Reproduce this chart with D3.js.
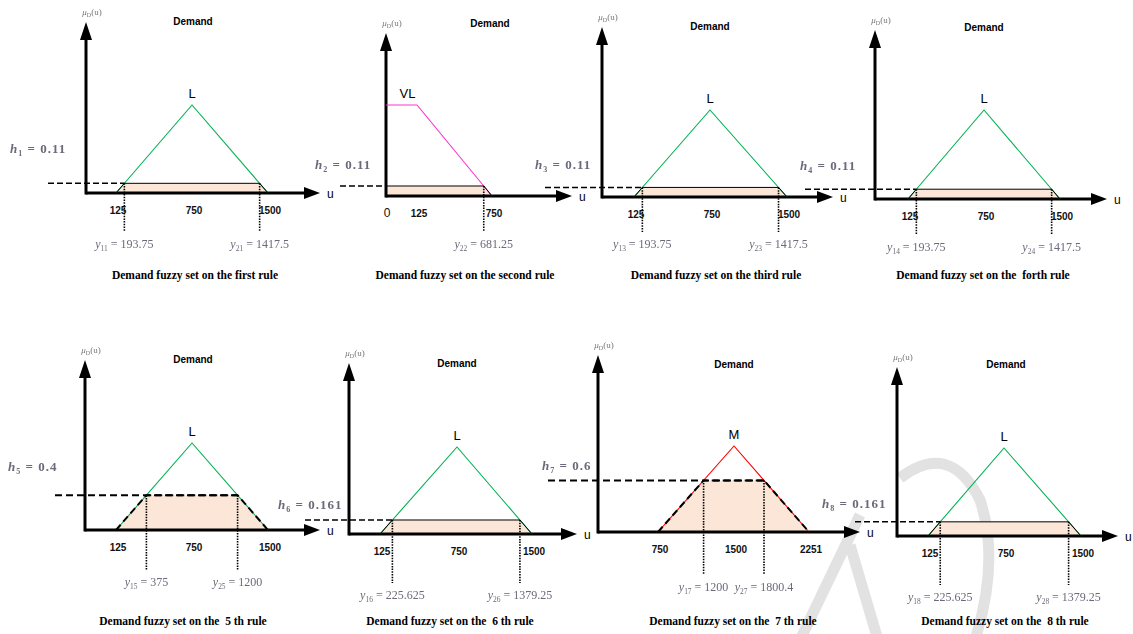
<!DOCTYPE html>
<html>
<head>
<meta charset="utf-8">
<script src="https://cdn.jsdelivr.net/npm/d3@7"></script>
<style>
  body { margin: 0; background: #fff; }
  .soft { filter: blur(0.45px); }
</style>
</head>
<body>
<div id="chart"></div>
<script>
// ---- data ----
const setNames = ['L', 'VL', 'L', 'L', 'L', 'L', 'M', 'L'];
const ruleNames = ['the first rule', 'the second rule', 'the third rule', 'the  forth rule',
    'the  5 th rule', 'the  6 th rule', 'the  7 th rule', 'the  8 th rule'];
const setVertices = [
    [[125, 0], [750, 1], [1500, 0]],
    [[0, 1], [125, 1], [750, 0]],
    [[125, 0], [750, 1], [1500, 0]],
    [[125, 0], [750, 1], [1500, 0]],
    [[125, 0], [750, 1], [1500, 0]],
    [[125, 0], [750, 1], [1500, 0]],
    [[750, 0], [1500, 1], [2251, 0]],
    [[125, 0], [750, 1], [1500, 0]]
];
const tickValues = [
    [125, 750, 1500], [0, 125, 750], [125, 750, 1500], [125, 750, 1500],
    [125, 750, 1500], [125, 750, 1500], [750, 1500, 2251], [125, 750, 1500]
];
const hValues = [0.11, 0.11, 0.11, 0.11, 0.4, 0.161, 0.6, 0.161];
const hLabels = ['0.11', '0.11', '0.11', '0.11', '0.4', '0.161', '0.6', '0.161'];
const yLeftLabels = ['193.75', null, '193.75', '193.75', '375', '225.625', '1200', '225.625'];
const yRightLabels = ['1417.5', '681.25', '1417.5', '1417.5', '1200', '1379.25', '1800.4', '1379.25'];

// ---- layout (pixel placement of each small panel) ----
const layout = [
    { ox: 86, oy: 193, tipY: 22, tipX: 320, xr: [116, 192, 268], peakY: 105, dashX: 48, hLab: [10, 153], dotBottom: 232, title: [193, 25], caption: [195, 279] },
    { ox: 386, oy: 196, tipY: 33, tipX: 572, xr: [386, 417, 492], peakY: 105, dashX: 340, hLab: [315, 169], dotBottom: 232, title: [490, 27], caption: [465, 279] },
    { ox: 602, oy: 197, tipY: 27, tipX: 833, xr: [634, 710, 787], peakY: 110, dashX: 545, hLab: [535, 169], dotBottom: 232, title: [710, 30], caption: [716, 279] },
    { ox: 875, oy: 199, tipY: 30, tipX: 1107, xr: [908, 984, 1060], peakY: 110, dashX: 805, hLab: [800, 170], dotBottom: 235, title: [984, 31], caption: [983, 279] },
    { ox: 85, oy: 530, tipY: 360, tipX: 320, xr: [116, 192, 268], peakY: 443, dashX: 55, hLab: [8, 471], dotBottom: 570, title: [193, 363], caption: [183, 625], bold: true },
    { ox: 349, oy: 534, tipY: 363, tipX: 577, xr: [380, 457, 532], peakY: 447, dashX: 305, hLab: [278, 509], dotBottom: 583, title: [457, 367], caption: [450, 625] },
    { ox: 598, oy: 532, tipY: 355, tipX: 860, xr: [658, 734, 809], peakY: 446, dashX: 548, hLab: [542, 470], dotBottom: 575, title: [734, 368], caption: [733, 625], bold: true },
    { ox: 897, oy: 536, tipY: 367, tipX: 1118, xr: [928, 1004, 1081], peakY: 448, dashX: 855, hLab: [822, 508], dotBottom: 585, title: [1006, 368], caption: [1005, 625] }
];
const setColors = { L: '#00b050', VL: '#ff33cc', M: '#ff0000' };
const fillColor = '#fbe6d7';
const sans = 'Liberation Sans, Arial, sans-serif';
const serif = 'Liberation Serif, Times New Roman, serif';

const svg = d3.select('#chart').append('svg')
    .attr('width', 1133)
    .attr('height', 634);
svg.append('rect').attr('width', 1133).attr('height', 634).attr('fill', '#fff');

// faint watermark strokes behind the lower-right panels
const wm = svg.append('g').attr('fill', 'none').attr('stroke', '#e2e2e2').attr('stroke-width', 11);
wm.append('path').attr('d', 'M 800 640 L 860 515');
wm.append('path').attr('d', 'M 850 545 L 878 640');
wm.append('path').attr('d', 'M 900 478 Q 950 440 980 500 Q 1000 560 975 640');

// clip a membership polygon at level h; returns the area polygon and the cut points
function clipSet(verts, h) {
    const poly = [[verts[0][0], 0]];
    const cuts = [];
    verts.forEach((v, k) => {
        poly.push([v[0], Math.min(v[1], h)]);
        const nxt = verts[k + 1];
        if (nxt && (v[1] - h) * (nxt[1] - h) < 0) {
            const t = (h - v[1]) / (nxt[1] - v[1]);
            const u = v[0] + t * (nxt[0] - v[0]);
            poly.push([u, h]);
            cuts.push(u);
        }
    });
    poly.push([verts[verts.length - 1][0], 0]);
    return { poly, cuts };
}

function subLabel(g, xPos, yPos, letter, sub, rest, size, anchor) {
    const t = g.append('text')
        .attr('class', 'soft')
        .attr('x', xPos).attr('y', yPos)
        .attr('text-anchor', anchor)
        .attr('font-family', serif)
        .attr('font-size', size)
        .attr('fill', '#6a6a7a');
    t.append('tspan').attr('font-style', 'italic').text(letter);
    t.append('tspan').attr('dy', 3).attr('font-size', size * 0.62).text(sub);
    t.append('tspan').attr('dy', -3).text(rest);
    return t;
}

function drawPanel(i, L) {
    const g = svg.append('g');
    const x = d3.scaleLinear().domain(tickValues[i]).range(L.xr);
    const y = d3.scaleLinear().domain([0, 1]).range([L.oy, L.peakY]);
    const h = hValues[i];
    const verts = setVertices[i];
    const { poly, cuts } = clipSet(verts, h);
    const line = d3.line().x(d => x(d[0])).y(d => y(d[1]));

    // clipped area
    g.append('path')
        .attr('d', line(poly) + 'Z')
        .attr('fill', fillColor);

    // axes with arrow heads
    g.append('line')
        .attr('x1', L.ox).attr('y1', L.oy)
        .attr('x2', L.tipX - 12).attr('y2', L.oy)
        .attr('stroke', '#000').attr('stroke-width', 3);
    g.append('path')
        .attr('d', `M${L.tipX},${L.oy} L${L.tipX - 16},${L.oy - 6} L${L.tipX - 16},${L.oy + 6} Z`)
        .attr('fill', '#000');
    g.append('line')
        .attr('x1', L.ox).attr('y1', L.oy + 1.5)
        .attr('x2', L.ox).attr('y2', L.tipY + 14)
        .attr('stroke', '#000').attr('stroke-width', 3);
    g.append('path')
        .attr('d', `M${L.ox},${L.tipY} L${L.ox - 6},${L.tipY + 18} L${L.ox + 6},${L.tipY + 18} Z`)
        .attr('fill', '#000');

    // membership function
    g.append('path')
        .attr('d', line(verts))
        .attr('fill', 'none')
        .attr('stroke', setColors[setNames[i]])
        .attr('stroke-width', 1.1);

    // outline of the clipped area and the h level line
    const topU = poly.filter(p => p[1] === h).map(p => p[0]);
    if (L.bold) {
        g.append('path')
            .attr('d', line(poly) + 'Z')
            .attr('fill', 'none')
            .attr('stroke', '#000').attr('stroke-width', 2)
            .attr('stroke-dasharray', '7,4');
        g.append('line')
            .attr('x1', L.dashX).attr('y1', y(h))
            .attr('x2', x(d3.max(topU))).attr('y2', y(h))
            .attr('stroke', '#000').attr('stroke-width', 2)
            .attr('stroke-dasharray', '7,4');
    } else {
        g.append('path')
            .attr('d', line(poly))
            .attr('fill', 'none')
            .attr('stroke', '#000').attr('stroke-width', 1);
        g.append('line')
            .attr('x1', L.dashX).attr('y1', y(h))
            .attr('x2', x(d3.min(topU))).attr('y2', y(h))
            .attr('stroke', '#000').attr('stroke-width', 1.5)
            .attr('stroke-dasharray', '6,3');
    }

    // dotted drop lines and y labels
    const drops = [];
    if (yLeftLabels[i] !== null) drops.push({ u: cuts[0], sub: '1' + (i + 1), val: yLeftLabels[i] });
    drops.push({ u: cuts[cuts.length - 1], sub: '2' + (i + 1), val: yRightLabels[i] });
    drops.forEach(d => {
        g.append('line')
            .attr('x1', x(d.u)).attr('y1', y(h))
            .attr('x2', x(d.u)).attr('y2', L.dotBottom)
            .attr('stroke', '#000').attr('stroke-width', 1.6)
            .attr('stroke-dasharray', '1.5,1.2');
        subLabel(g, x(d.u), L.dotBottom + 16, 'y', d.sub, ' = ' + d.val, 12, 'middle');
    });

    // h label
    subLabel(g, L.hLab[0], L.hLab[1], 'h', String(i + 1), ' = ' + hLabels[i], 13, 'start')
        .attr('font-weight', 'bold')
        .attr('letter-spacing', 1);

    // tick labels
    g.selectAll('text.tick')
        .data(tickValues[i])
        .join('text')
        .attr('class', 'tick')
        .attr('x', d => x(d) + (d === 0 ? 1 : 2))
        .attr('y', L.oy + 21)
        .attr('text-anchor', 'middle')
        .attr('font-family', sans)
        .attr('font-size', d => d === 0 ? 12 : 10)
        .attr('font-weight', d => d === 0 ? 'normal' : 'bold')
        .attr('fill', '#111')
        .text(d => d);

    // axis names, titles
    g.append('text')
        .attr('x', L.tipX + 7).attr('y', L.oy + 5)
        .attr('font-family', sans).attr('font-size', 12)
        .text('u');
    const mu = g.append('text')
        .attr('class', 'soft')
        .attr('x', L.ox + 6).attr('y', L.tipY - 7)
        .attr('text-anchor', 'middle')
        .attr('font-family', serif).attr('font-size', 9)
        .attr('fill', '#777');
    mu.append('tspan').attr('font-style', 'italic').text('μ');
    mu.append('tspan').attr('dy', 2).attr('font-size', 6).text('D');
    mu.append('tspan').attr('dy', -2).text('(u)');

    g.append('text')
        .attr('x', L.title[0]).attr('y', L.title[1])
        .attr('text-anchor', 'middle')
        .attr('font-family', sans).attr('font-size', 10).attr('font-weight', 'bold')
        .text('Demand');
    const peak = verts.filter(v => v[1] === 1);
    g.append('text')
        .attr('x', d3.mean(peak, v => x(v[0])) + (peak.length > 1 ? 6 : 0))
        .attr('y', L.peakY - 7)
        .attr('text-anchor', 'middle')
        .attr('font-family', sans).attr('font-size', 13)
        .text(setNames[i]);
    g.append('text')
        .attr('x', L.caption[0]).attr('y', L.caption[1])
        .attr('text-anchor', 'middle')
        .attr('font-family', serif).attr('font-size', 11.5).attr('font-weight', 'bold')
        .attr('xml:space', 'preserve')
        .style('white-space', 'pre')
        .text('Demand fuzzy set on ' + ruleNames[i]);
}

layout.forEach((L, i) => drawPanel(i, L));
</script>
</body>
</html>
